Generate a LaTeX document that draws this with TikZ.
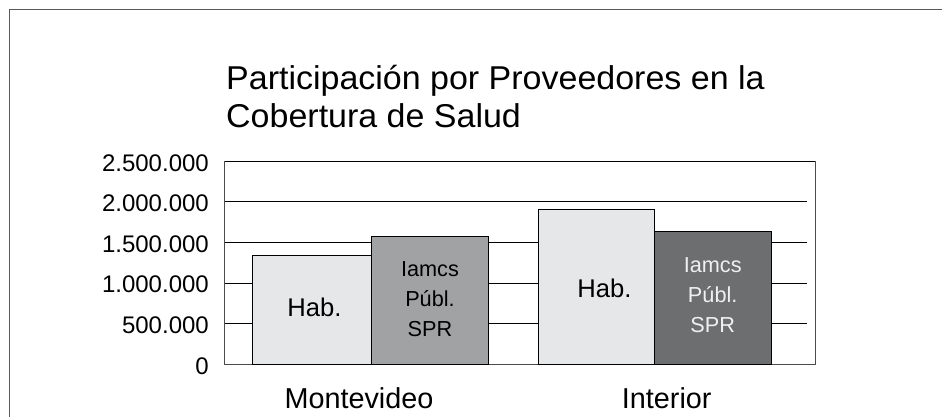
\documentclass[tikz,border=0pt]{standalone}
\usepackage{fontspec}
\setmainfont{Liberation Sans}
\usetikzlibrary{positioning}
\definecolor{habgray}{HTML}{E6E7E8}
\definecolor{mvgray}{HTML}{A1A2A4}
\definecolor{intgray}{HTML}{6D6E70}
\definecolor{framegray}{HTML}{58595B}
\tikzset{bar/.style={draw=black,line width=1pt},
  gridline/.style={line width=1pt},
  ylab/.style={anchor=east,inner sep=0pt,font=\fontsize{24}{28}\selectfont},
  barlab/.style={inner sep=0pt,align=center,font=\fontsize{21.7}{30}\selectfont},
  hablab/.style={inner sep=0pt,font=\fontsize{25.6}{30}\selectfont},
  catlab/.style={anchor=base,inner sep=0pt,font=\fontsize{28.8}{34}\selectfont}}

\begin{document}
\begin{tikzpicture}[x=1pt,y=-1pt]
    \useasboundingbox (0,0) rectangle (942,417);
    \draw[framegray,line width=1.6pt] (9.5,417) -- (9.5,9.5) -- (942,9.5);
    \node[anchor=base west,inner sep=0pt,font=\fontsize{33}{38}\selectfont] (title) at (226,89.5)
        {\scalebox{1.03}[1]{\begin{tabular}[t]{@{}l@{}}Participación por Proveedores en la\\Cobertura de Salud\end{tabular}}};
    % grid and axes
    \foreach \v in {1,...,4}
        \draw[gridline] (224,{364.3-40.6*\v}) -- (806.7,{364.3-40.6*\v});
    \draw[line width=1.5pt] (224,161.3) -- (815,161.3);
    \draw[line width=1pt,black!70] (224,161.3) -- (224,364.3) -- (815,364.3) -- (815,161.3);
    \foreach \v/\t in {0/0,1/500.000,2/1.000.000,3/1.500.000,4/2.000.000,5/2.500.000}
        \node[ylab] (y\v) at (209,{365.8-40.6*\v}) {\t};
    % bars
    \draw[bar,fill=habgray] (252.3,364.3) rectangle (371.7,255.7);
    \draw[bar,fill=mvgray] (371.7,364.3) rectangle (488.3,236.3);
    \draw[bar,fill=habgray] (538.7,364.3) rectangle (654.3,209.3);
    \draw[bar,fill=intgray] (654.3,364.3) rectangle (771,231);
    \node[hablab] (habmvd) at (314.5,307.5) {Hab.};
    \node[barlab] (iammvd) at (430,299) {Iamcs\\Públ.\\SPR};
    \node[hablab] (habint) at (604.5,288) {Hab.};
    \node[barlab,text=white!94!black] (iamint) at (712.7,295) {Iamcs\\Públ.\\SPR};
    \node[catlab] (mvd) at (359,408.3) {Montevideo};
    \node[catlab] (int) at (666.7,408.3) {Interior};
\end{tikzpicture}
\end{document}
